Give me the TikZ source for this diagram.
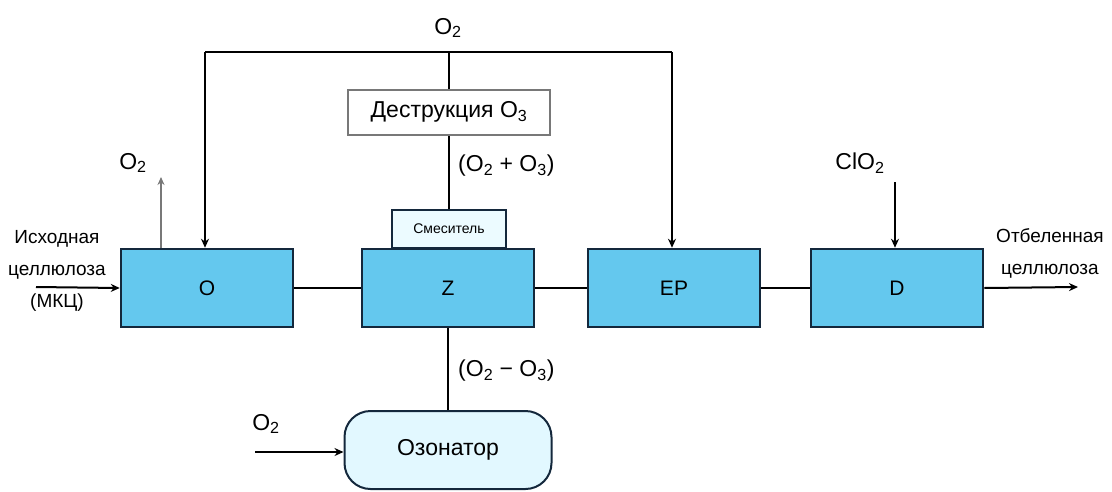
\documentclass[tikz,border=0pt]{standalone}
\usepackage{fontspec}
\setmainfont{Liberation Sans}
\usetikzlibrary{arrows.meta}
\definecolor{boxfill}{RGB}{100,200,238}
\definecolor{boxedge}{RGB}{20,40,60}
\definecolor{ozfill}{RGB}{226,248,255}
\definecolor{smfill}{RGB}{236,251,255}
\definecolor{greyedge}{RGB}{120,120,120}
\begin{document}
\begin{tikzpicture}[x=1pt,y=-1pt,
  proc/.style={draw=boxedge,line width=2.5pt,fill=boxfill,minimum width=172pt,minimum height=78pt,inner sep=0pt,font=\fontsize{21}{24}\selectfont},
  conn/.style={line width=2pt,black},
  arr/.style={conn,-{Stealth[length=9pt,width=8pt]}},
  lbl/.style={font=\fontsize{23}{26}\selectfont,inner sep=0pt},
  side/.style={font=\fontsize{19}{32}\selectfont,align=center,inner sep=0pt}]
\useasboundingbox (0,0) rectangle (1112,491);
% main process boxes
\node[proc] (O)  at (207,288) {O};
\node[proc] (Z)  at (448,288) {Z};
\node[proc] (EP) at (674,288) {EP};
\node[proc] (D)  at (897,288) {D};
% auxiliary boxes
\node[draw=greyedge,line width=2pt,fill=white,minimum width=202pt,minimum height=45pt,inner sep=0pt,lbl] (destr) at (449,112) {Деструкция O\textsubscript{3}};
\node[draw=boxedge,line width=2pt,fill=smfill,minimum width=114pt,minimum height=38pt,inner sep=0pt,font=\fontsize{14}{16}\selectfont] (mix) at (449,229) {Смеситель};
\node[draw=boxedge,line width=2pt,fill=ozfill,rounded corners=26pt,minimum width=207pt,minimum height=78pt,inner sep=0pt,lbl] (ozon) at (448,450) {Озонатор};
% side texts
\node[side] (inp) at (57,271) {Исходная\\целлюлоза\\(МКЦ)};
\node[side] (outp) at (1050,253) {Отбеленная\\целлюлоза};
% labels
\node[lbl] (o2top) at (448,28) {O\textsubscript{2}};
\node[lbl] (o2vent) at (133,163) {O\textsubscript{2}};
\node[lbl] (clo2) at (860,163) {ClO\textsubscript{2}};
\node[lbl,anchor=west] (o2o3a) at (458,166) {(O\textsubscript{2} + O\textsubscript{3})};
\node[lbl,anchor=west] (o2o3b) at (458,371) {(O\textsubscript{2} − O\textsubscript{3})};
\node[lbl] (o2in) at (266,424) {O\textsubscript{2}};
% coordinates
\coordinate (tl) at (205,52);
\coordinate (tr) at (672,52);
\coordinate (tm) at (449,52);
\coordinate (ventTop) at (161,177);
\coordinate (clTop) at (895,182);
\coordinate (inStart) at (36,287);
\coordinate (outEnd) at (1078,287);
\coordinate (ozStart) at (255,452);
% connectors between stages
\draw[conn] (O.east) -- (Z.west);
\draw[conn] (Z.east) -- (EP.west);
\draw[conn] (EP.east) -- (D.west);
\draw[arr] (inStart) -- (O.west);
\draw[arr] (D.east) -- (outEnd);
% oxygen distribution
\draw[conn] (tl) -- (tr);
\draw[conn] (destr.north) -- (tm);
\draw[arr] (tl) -- (tl |- O.north);
\draw[arr] (tr) -- (tr |- EP.north);
\draw[conn] (mix.north) -- (destr.south);
\draw[conn] (ozon.north) -- (ozon.north |- Z.south);
\draw[arr] (ozStart) -- (ozStart -| ozon.west);
% vent and ClO2
\draw[line width=1.5pt,greyedge,-{Stealth[length=8pt,width=7pt]}] (ventTop |- O.north) -- (ventTop);
\draw[arr] (clTop) -- (clTop |- D.north);
\end{tikzpicture}
\end{document}
